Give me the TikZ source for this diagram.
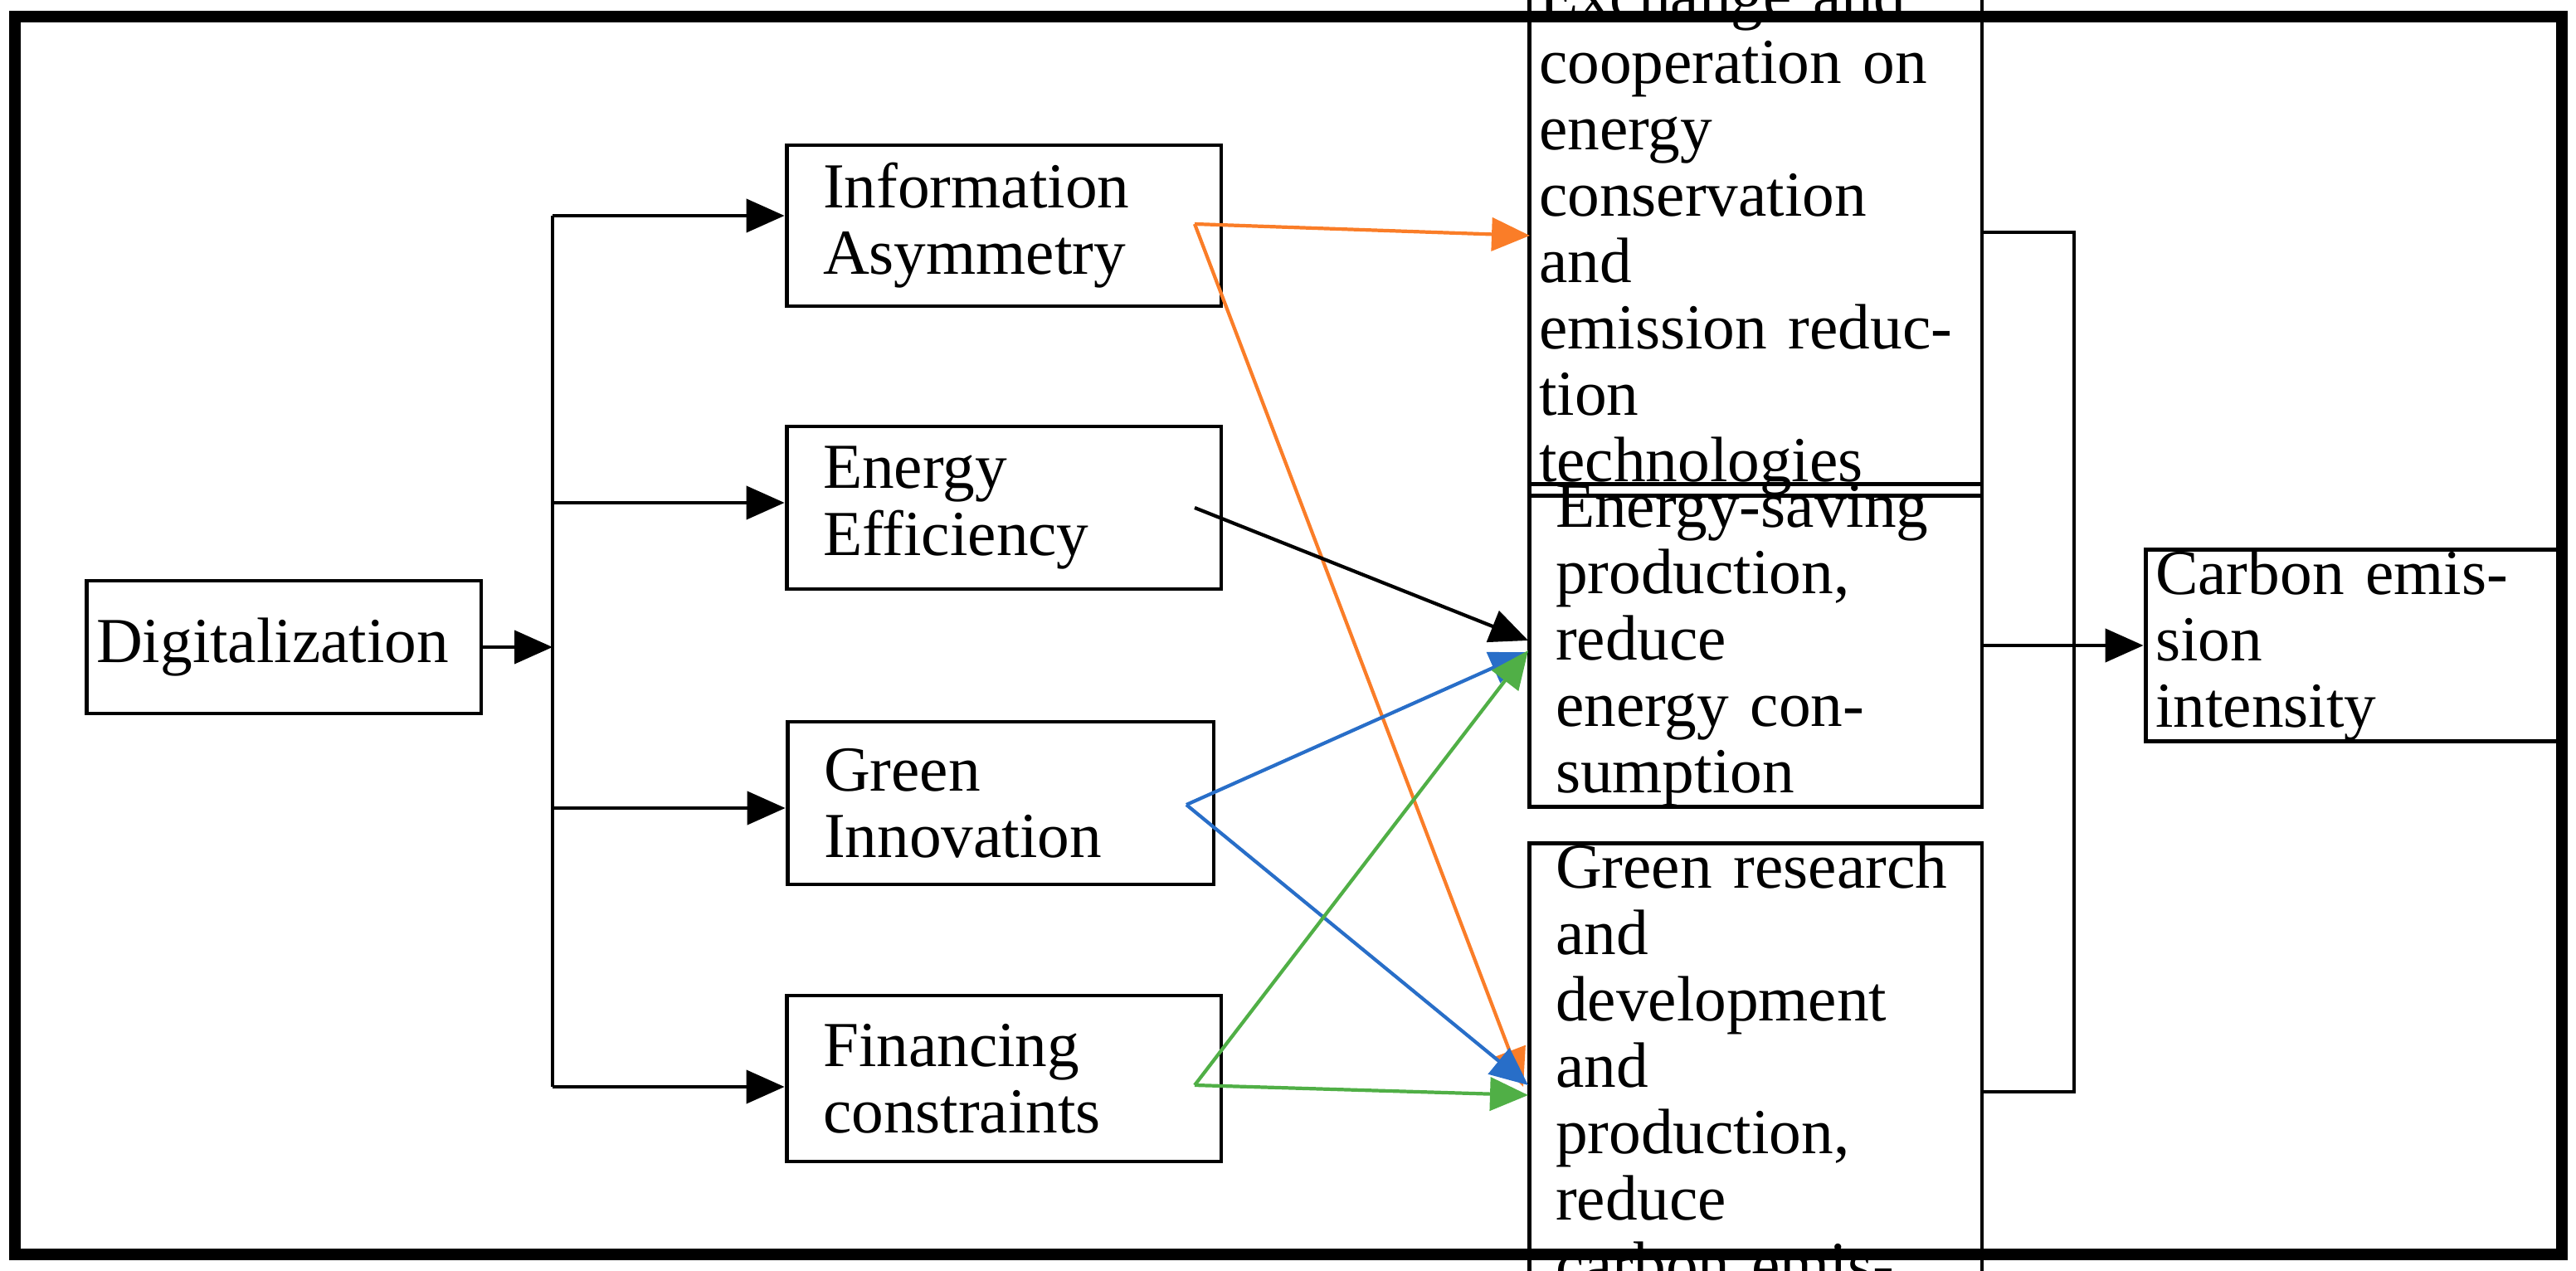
\documentclass[tikz,border=0pt]{standalone}
\usepackage{fontspec}
\setmainfont{Liberation Serif}
\usetikzlibrary{arrows.meta}
\definecolor{orng}{RGB}{250,125,40}
\definecolor{blu}{RGB}{40,110,200}
\definecolor{grn}{RGB}{80,175,70}
\begin{document}
\begin{tikzpicture}[x=0.02cm,y=-0.02cm,
  box/.style={draw,line width=1.4pt,inner xsep=0.12cm,inner ysep=0cm,align=left,font=\fontsize{22}{22.8}\selectfont},
  arr/.style={line width=1.2pt,-{Triangle[length=0.46cm,width=0.4cm]}},
  ln/.style={line width=1.2pt}]
\useasboundingbox (0,0) rectangle (1552.5,766);
\draw[line width=4pt] (9,10) rectangle (1544,756);
\node[box,text width=4.52cm,minimum height=1.60cm] (dig) at (171,390) {Digitalization};
\node[box,text width=4.36cm,minimum height=1.94cm,inner xsep=0.44cm] (ia) at (605,136) {Information\\Asymmetry};
\node[box,text width=4.36cm,minimum height=1.96cm,inner xsep=0.44cm] (ee) at (605,306) {Energy\\Efficiency};
\node[box,text width=4.26cm,minimum height=1.96cm,inner xsep=0.44cm] (gi) at (603,484) {Green\\Innovation};
\node[box,text width=4.36cm,minimum height=2.00cm,inner xsep=0.44cm] (fc) at (605,650) {Financing\\constraints};
\node[box,text width=5.22cm,minimum height=3.96cm] (ex) at (1058,141) {Exchange and\\cooperation on energy\\conservation and\\emission reduction\\technologies};
\node[box,text width=4.82cm,minimum height=2.96cm,inner xsep=0.32cm] (es) at (1058,389) {Energy-saving\\production, reduce\\energy consumption};
\node[box,text width=4.82cm,minimum height=2.90cm,inner xsep=0.32cm] (gr) at (1058,662) {Green research and\\development and\\production, reduce\\carbon emissions};
\node[box,text width=4.80cm,minimum height=1.66cm] (ce) at (1419,389) {Carbon emission\\intensity};
\coordinate (j) at (333,390);
\draw[arr] (dig.east) -- (j);
\draw[ln] (333,130) -- (333,655);
\draw[arr] (333,130) -- (ia.west|-{(333,130)});
\draw[arr] (333,303) -- (ee.west|-{(333,303)});
\draw[arr] (333,487) -- (gi.west|-{(333,487)});
\draw[arr] (333,655) -- (fc.west|-{(333,655)});
\coordinate (iaO) at (720,135);
\coordinate (eeO) at (720,306);
\coordinate (giO) at (715,485);
\coordinate (fcO) at (720,654);
\coordinate (exI) at (922,142);
\coordinate (exO) at (1195,140);
\coordinate (grO) at (1195,658);
\draw[arr,orng] (iaO) -- (exI);
\draw[arr,orng] (iaO) -- (918,655);
\draw[arr] (eeO) -- (921,386);
\draw[arr,blu] (giO) -- (921,393);
\draw[arr,blu] (giO) -- (921,654);
\draw[arr,grn] (fcO) -- (921,392);
\draw[arr,grn] (fcO) -- (921,660);
\draw[ln] (exO) -- (1250,140) -- (1250,658) -- (grO);
\draw[arr] (es.east) -- (ce.west);
\end{tikzpicture}
\end{document}
